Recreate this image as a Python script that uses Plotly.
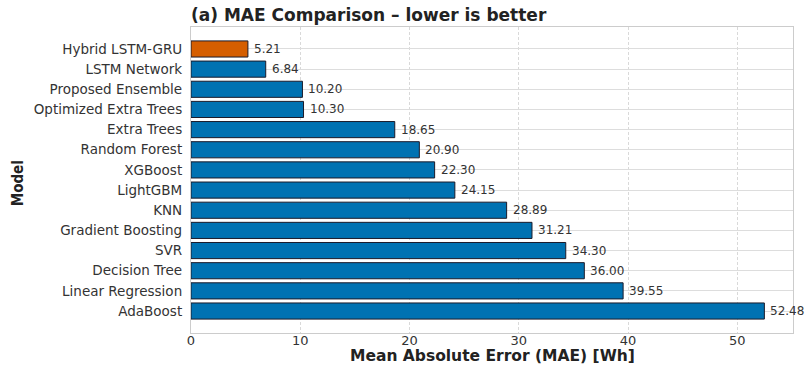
import plotly.graph_objects as go

# Model names (top to bottom) and their mean absolute errors in Wh
models = [
    "Hybrid LSTM-GRU", "LSTM Network", "Proposed Ensemble", "Optimized Extra Trees",
    "Extra Trees", "Random Forest", "XGBoost", "LightGBM", "KNN",
    "Gradient Boosting", "SVR", "Decision Tree", "Linear Regression", "AdaBoost",
]
mae_values = [5.21, 6.84, 10.20, 10.30, 18.65, 20.90, 22.30, 24.15, 28.89,
              31.21, 34.30, 36.00, 39.55, 52.48]
highlight_model = "Hybrid LSTM-GRU"
x_ticks = [0, 10, 20, 30, 40, 50]

BLUE = "#0072B2"
ORANGE = "#D55E00"
FONT = "DejaVu Sans, Liberation Sans, Arial, sans-serif"

# bottom-to-top order for the y axis
ys = models[::-1]
xs = mae_values[::-1]
colors = [ORANGE if m == highlight_model else BLUE for m in ys]

fig = go.Figure(
    go.Bar(
        x=xs,
        y=ys,
        orientation="h",
        width=0.8,
        marker=dict(color=colors, line=dict(color="#1b1b2a", width=1)),
        hoverinfo="x+y",
    )
)

# value labels just past the end of each bar
for m, v in zip(ys, xs):
    fig.add_annotation(
        x=v, y=m, xref="x", yref="y",
        text=f"{v:.2f}", showarrow=False,
        xanchor="left", yanchor="middle", xshift=4,
        font=dict(family=FONT, size=12, color="#333333"),
    )

# y-axis title
fig.add_annotation(
    x=-0.287, y=0.49, xref="paper", yref="paper",
    text="<b>Model</b>", showarrow=False, textangle=-90,
    xanchor="center", yanchor="middle",
    font=dict(family="DejaVu Sans Condensed, DejaVu Sans", size=15, color="#222222"),
)

# x-axis title
fig.add_annotation(
    x=0.5, y=-0.074, xref="paper", yref="paper",
    text="<b>Mean Absolute Error (MAE) [Wh]</b>", showarrow=False,
    xanchor="center", yanchor="middle",
    font=dict(family=FONT, size=15.5, color="#222222"),
)

fig.update_layout(
    width=805,
    height=366,
    margin=dict(l=191, r=12, t=27, b=33),
    paper_bgcolor="white",
    plot_bgcolor="white",
    showlegend=False,
    title=dict(
        text="<b>(a) MAE Comparison – lower is better</b>",
        x=0, xref="paper", xanchor="left",
        y=1 - 15 / 366, yref="container", yanchor="middle",
        font=dict(family=FONT, size=17, color="#222222"),
    ),
    font=dict(family=FONT, color="#333333"),
)

fig.update_xaxes(
    range=[0, 55.1],
    tickvals=x_ticks,
    showgrid=True,
    gridcolor="#d9d9d9",
    griddash="3px,2px",
    gridwidth=1,
    zeroline=False,
    showline=True,
    linecolor="#cccccc",
    linewidth=1.2,
    mirror=True,
    ticks="",
    ticklabelstandoff=-5,
    tickfont=dict(family=FONT, size=13, color="#333333"),
)

fig.update_yaxes(
    type="category",
    categoryorder="array",
    categoryarray=ys,
    range=[-1.09, len(ys) - 1 + 1.09],
    showgrid=True,
    gridcolor="#dddddd",
    gridwidth=1,
    zeroline=False,
    showline=True,
    linecolor="#cccccc",
    linewidth=1.2,
    mirror=True,
    ticks="",
    ticklabelstandoff=5,
    tickfont=dict(family=FONT, size=13.5, color="#333333"),
)

fig.write_html("out.html")
